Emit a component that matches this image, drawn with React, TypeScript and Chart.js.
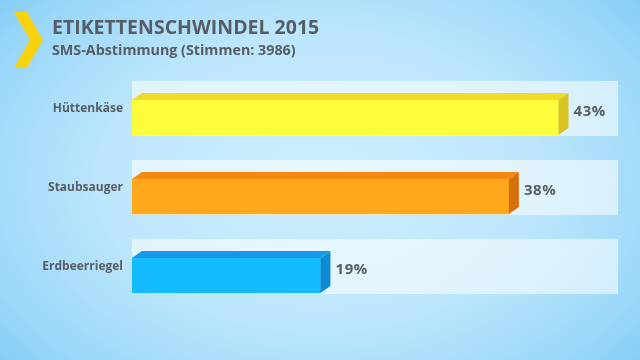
import React, { useEffect, useRef } from "react";
import { Chart, registerables } from "chart.js";

Chart.register(...registerables);

const TITLE = "ETIKETTENSCHWINDEL 2015";
const SUBTITLE = "SMS-Abstimmung (Stimmen: 3986)";
const categories = ["Hüttenkäse", "Staubsauger", "Erdbeerriegel"];
const values = [43, 38, 19];
const frontColors = ["#fdfd3c", "#ffa81c", "#14bbfc"];
const topColors = ["#f1db28", "#f5890f", "#1699e8"];
const sideColors = ["#d9c424", "#d66f0c", "#0f8ad4"];
const X_MAX = 49;

const FONT = "'Open Sans', 'DejaVu Sans', sans-serif";
const TEXT_COLOR = "#585d63";
const DX = 10;
const DY = 7;

const bandsAnd3d = {
  id: "bandsAnd3d",
  beforeDatasetsDraw(chart: any) {
    const meta = chart.getDatasetMeta(0);
    const { ctx, chartArea } = chart;
    ctx.save();
    ctx.fillStyle = "rgba(255,255,255,0.55)";
    meta.data.forEach((el: any) => {
      const p = el.getProps(["y", "height"], true);
      const top = p.y - p.height / 2 - 19;
      const bottom = p.y + p.height / 2 + 1;
      ctx.fillRect(chartArea.left, top, chartArea.right - chartArea.left, bottom - top);
    });
    ctx.restore();
  },
  afterDatasetsDraw(chart: any) {
    const meta = chart.getDatasetMeta(0);
    const { ctx } = chart;
    ctx.save();
    meta.data.forEach((el: any, i: number) => {
      const p = el.getProps(["x", "y", "base", "height"], true);
      const top = p.y - p.height / 2;
      const bottom = p.y + p.height / 2;
      ctx.fillStyle = topColors[i];
      ctx.beginPath();
      ctx.moveTo(p.base, top);
      ctx.lineTo(p.base + DX, top - DY);
      ctx.lineTo(p.x + DX, top - DY);
      ctx.lineTo(p.x, top);
      ctx.closePath();
      ctx.fill();
      ctx.fillStyle = sideColors[i];
      ctx.beginPath();
      ctx.moveTo(p.x, top);
      ctx.lineTo(p.x + DX, top - DY);
      ctx.lineTo(p.x + DX, bottom - DY);
      ctx.lineTo(p.x, bottom);
      ctx.closePath();
      ctx.fill();
      ctx.fillStyle = TEXT_COLOR;
      ctx.font = `bold 15px ${FONT}`;
      (ctx as any).letterSpacing = "0.6px";
      ctx.textAlign = "left";
      ctx.textBaseline = "middle";
      ctx.fillText(values[i] + "%", p.x + DX + 5, p.y - 6);
    });
    ctx.restore();
  },
};

const header = {
  id: "header",
  beforeDraw(chart: any) {
    const { ctx } = chart;
    ctx.save();
    ctx.fillStyle = "#f8d20c";
    ctx.beginPath();
    ctx.moveTo(14, 12);
    ctx.lineTo(27, 12);
    ctx.lineTo(43, 40);
    ctx.lineTo(27, 68);
    ctx.lineTo(14, 68);
    ctx.lineTo(30, 40);
    ctx.closePath();
    ctx.fill();
    ctx.fillStyle = TEXT_COLOR;
    ctx.textAlign = "left";
    ctx.textBaseline = "alphabetic";
    ctx.font = `bold 19.5px ${FONT}`;
    ctx.fillText(TITLE, 52, 33.5);
    ctx.font = `bold 14.3px ${FONT}`;
    ctx.fillText(SUBTITLE, 52, 54.5);
    ctx.restore();
  },
};

export default function App() {
  const ref = useRef<HTMLCanvasElement>(null);
  useEffect(() => {
    document.body.style.margin = "0";
    const chart = new Chart(ref.current as HTMLCanvasElement, {
      type: "bar",
      data: {
        labels: categories,
        datasets: [
          {
            data: values,
            backgroundColor: frontColors,
            barThickness: 35,
            borderWidth: 0,
          },
        ],
      },
      options: {
        indexAxis: "y",
        animation: false,
        responsive: false,
        layout: { padding: { left: 0, right: 22, bottom: 45, top: 78 } },
        plugins: {
          legend: { display: false },
          tooltip: { enabled: false },
        },
        scales: {
          x: { display: false, min: 0, max: X_MAX },
          y: {
            grid: { display: false, drawTicks: false },
            border: { display: false },
            afterFit(scale: any) {
              scale.width = 132;
            },
            ticks: {
              color: TEXT_COLOR,
              font: { family: FONT, size: 12, weight: "bold" },
              labelOffset: -9,
              padding: 9,
            },
          },
        },
      },
      plugins: [header, bandsAnd3d],
    });
    return () => chart.destroy();
  }, []);
  return (
    <div
      style={{
        width: 640,
        height: 360,
        background:
          "radial-gradient(ellipse 75% 90% at 50% 50%, #cdeefe 0%, #bce6fc 45%, #9ad7f8 75%, #6fc3f3 100%)",
      }}
    >
      <canvas ref={ref} width={640} height={360} />
    </div>
  );
}
